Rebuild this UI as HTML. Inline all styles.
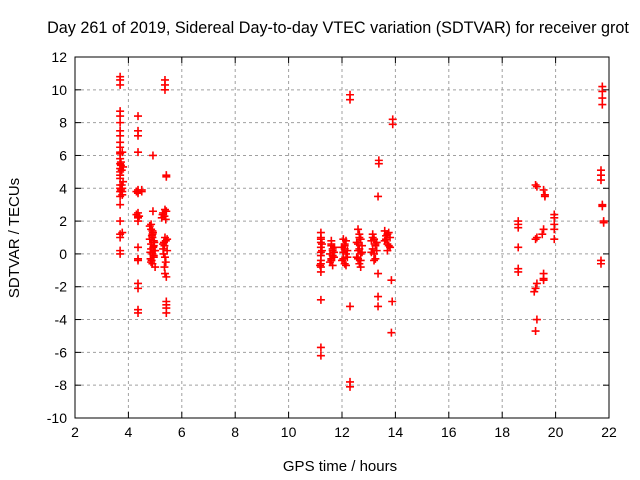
<!DOCTYPE html>
<html><head><meta charset="utf-8"><style>
body{margin:0;background:#fff}
svg{display:block;font-family:"Liberation Sans",sans-serif}
</style></head><body>
<svg id="chart" width="640" height="480" viewBox="0 0 640 480" xmlns="http://www.w3.org/2000/svg">
<rect width="640" height="480" fill="#fff"/>
<text x="338" y="33" font-size="16.2" text-anchor="middle">Day 261 of 2019, Sidereal Day-to-day VTEC variation (SDTVAR) for receiver grot</text>
<g id="grid"></g>
<g id="ticks"></g>
<g id="pts"></g>
<rect x="75" y="57" width="534" height="361" fill="none" stroke="#000" stroke-width="1"/>
<text x="340" y="471" font-size="15" text-anchor="middle">GPS time / hours</text>
<text transform="translate(19,238) rotate(-90)" font-size="15" text-anchor="middle">SDTVAR / TECUs</text>
</svg>
<script>
const xTicks=[2,4,6,8,10,12,14,16,18,20,22];
const yTicks=[-10,-8,-6,-4,-2,0,2,4,6,8,10,12];
const hours=[
3.69,3.69,3.69,3.69,3.69,3.69,3.69,3.69,3.69,3.69,3.69,3.69,3.69,3.69,3.69,3.69,3.69,3.69,3.69,3.69,3.69,3.69,3.69,3.69,3.69,3.69,3.69,3.69,
3.77,3.77,3.77,3.77,3.77,3.8,3.8,3.72,3.75,3.72,3.75,3.72,
4.36,4.36,4.36,4.36,4.36,4.36,4.36,4.36,4.36,4.36,4.36,4.36,4.36,4.36,4.36,4.36,4.36,4.36,4.5,4.5,4.3,4.4,4.3,
4.92,4.92,4.85,4.85,4.9,4.9,4.95,4.95,4.85,4.9,4.95,4.85,5.0,4.9,4.8,4.95,4.85,5.0,4.9,4.8,4.88,4.93,4.83,4.97,4.87,4.92,4.82,4.98,
5.37,5.37,5.37,5.42,5.42,5.37,5.3,5.35,5.4,5.37,5.4,5.35,5.45,5.37,5.4,5.35,5.37,5.42,5.42,5.42,5.42,5.42,5.42,5.25,5.3,5.28,5.33,5.45,5.32,5.3,
11.21,11.21,11.21,11.21,11.21,11.21,11.21,11.21,11.21,11.21,11.21,11.21,11.21,11.21,11.25,11.18,11.25,
11.6,11.6,11.65,11.65,11.6,11.65,11.6,11.7,11.6,11.65,11.55,11.7,11.55,11.7,
12.05,12.1,12.1,12.15,12.05,12.1,12.15,12.1,12.05,12.15,12.3,12.3,12.3,12.3,12.3,12.0,12.2,12.0,12.2,
12.6,12.65,12.7,12.6,12.65,12.7,12.6,12.65,12.7,12.65,12.6,12.7,12.55,12.75,12.55,12.75,
13.15,13.2,13.25,13.15,13.2,13.25,13.2,13.15,13.25,13.35,13.35,13.35,13.35,13.38,13.38,13.1,13.3,13.1,13.3,
13.6,13.7,13.8,13.6,13.7,13.8,13.7,13.75,13.9,13.9,13.85,13.88,13.85,13.65,13.75,13.65,
18.6,18.6,18.6,18.6,18.6,18.6,
19.25,19.3,19.3,19.25,19.3,19.25,19.2,19.3,19.25,
19.55,19.6,19.6,19.55,19.5,19.55,19.55,19.55,
19.95,19.95,19.95,19.95,19.95,
21.75,21.75,21.75,21.75,21.7,21.7,21.7,21.75,21.75,21.8,21.8,21.7,21.7
];
const values=[
10.8,10.6,10.3,8.7,8.4,8.0,7.5,7.2,6.8,6.5,6.2,6.1,5.8,5.5,5.2,5.0,4.8,4.6,4.2,4.0,3.8,3.5,3.0,2.0,1.2,1.0,0.2,0.0,
6.2,4.0,3.8,3.6,1.3,5.3,4.4,5.6,5.1,3.9,4.2,5.4,
8.4,7.5,7.2,6.2,3.9,3.8,3.7,2.5,2.3,2.2,2.0,0.4,-0.4,-0.3,-1.8,-2.1,-3.4,-3.6,3.9,3.8,2.4,2.3,3.8,
6.0,2.6,1.8,1.5,1.2,1.0,0.8,0.5,0.3,0.0,-0.2,-0.5,-0.8,1.4,1.7,-0.1,0.6,0.2,-0.6,0.9,1.1,0.4,-0.3,0.7,-0.4,1.3,0.1,0.2,
10.6,10.3,10.0,4.8,4.7,2.7,2.5,2.3,2.1,1.0,0.8,0.5,0.2,-0.2,-0.5,-0.8,-1.2,-1.4,-2.9,-3.1,-3.3,-3.6,2.6,2.2,0.3,2.4,0.7,0.9,0.0,0.6,
1.3,1.0,0.7,0.4,0.1,-0.1,-0.6,-0.8,-1.1,-2.8,-5.7,-6.2,0.9,-0.4,0.2,-0.7,0.6,
0.8,0.5,0.2,-0.1,-0.4,-0.7,0.6,0.1,-0.3,0.3,0.0,0.4,-0.5,-0.2,
0.9,0.6,0.3,0.0,-0.3,-0.6,-0.7,0.5,0.1,0.8,9.7,9.4,-3.2,-7.8,-8.1,0.4,-0.2,-0.4,0.2,
1.5,1.2,0.9,0.6,0.3,0.0,-0.3,-0.6,-0.8,1.0,0.2,-0.4,0.7,0.1,-0.2,0.5,
1.2,0.9,0.6,0.3,0.0,-0.3,-0.4,1.0,0.5,-1.2,-2.6,-3.2,3.5,5.7,5.5,0.8,0.2,0.1,0.7,
1.4,1.2,1.0,0.8,0.6,0.4,0.2,1.3,8.2,7.9,-1.6,-2.9,-4.8,0.9,0.5,1.1,
2.0,1.8,1.6,0.4,-0.9,-1.1,
4.2,4.1,1.0,0.9,-1.8,-2.1,-2.3,-4.0,-4.7,
3.9,3.6,3.5,1.5,1.2,-1.2,-1.5,-1.6,
2.4,2.2,1.8,1.5,0.9,
10.2,9.9,9.5,9.1,5.1,4.8,4.5,3.0,2.9,2.0,1.9,-0.4,-0.6
];
const NS="http://www.w3.org/2000/svg";
const L=75,R=609,T=57,B=418;
function xs(h){return L+(h-2)/(22-2)*(R-L);}
function ys(v){return B-(v+10)/(12+10)*(B-T);}
function mk(tag,a,parent){const e=document.createElementNS(NS,tag);for(const k in a)e.setAttribute(k,a[k]);parent.appendChild(e);return e;}
const grid=document.getElementById('grid'),ticks=document.getElementById('ticks'),pts=document.getElementById('pts');
xTicks.forEach(t=>{const x=xs(t);
 if(t>2&&t<22){const g=mk('line',{x1:x,x2:x,y1:T,y2:B,stroke:'#a0a0a0','stroke-dasharray':'3,3'},grid);
 
 }
 mk('line',{x1:x,x2:x,y1:B,y2:B-6,stroke:'#000'},ticks);
 mk('line',{x1:x,x2:x,y1:T,y2:T+6,stroke:'#000'},ticks);
 const tx=mk('text',{x:x,y:B+19,'font-size':14,'text-anchor':'middle'},ticks);tx.textContent=t;
 
 
});
yTicks.forEach(t=>{const y=ys(t);
 if(t>-10&&t<12){const g=mk('line',{x1:L,x2:R,y1:y,y2:y,stroke:'#a0a0a0','stroke-dasharray':'3,3'},grid);
 
 }
 mk('line',{x1:L,x2:L+6,y1:y,y2:y,stroke:'#000'},ticks);
 mk('line',{x1:R,x2:R-6,y1:y,y2:y,stroke:'#000'},ticks);
 const tx=mk('text',{x:L-8,y:y+5,'font-size':14,'text-anchor':'end'},ticks);tx.textContent=t;
 
 
});
hours.forEach((h,i)=>{const x=xs(h),y=ys(values[i]);
 const p=mk('path',{d:`M${x-4},${y}H${x+4}M${x},${y-4}V${y+4}`,stroke:'#f00','stroke-width':1.6,fill:'none'},pts);
 
 
});
</script>
</body></html>
